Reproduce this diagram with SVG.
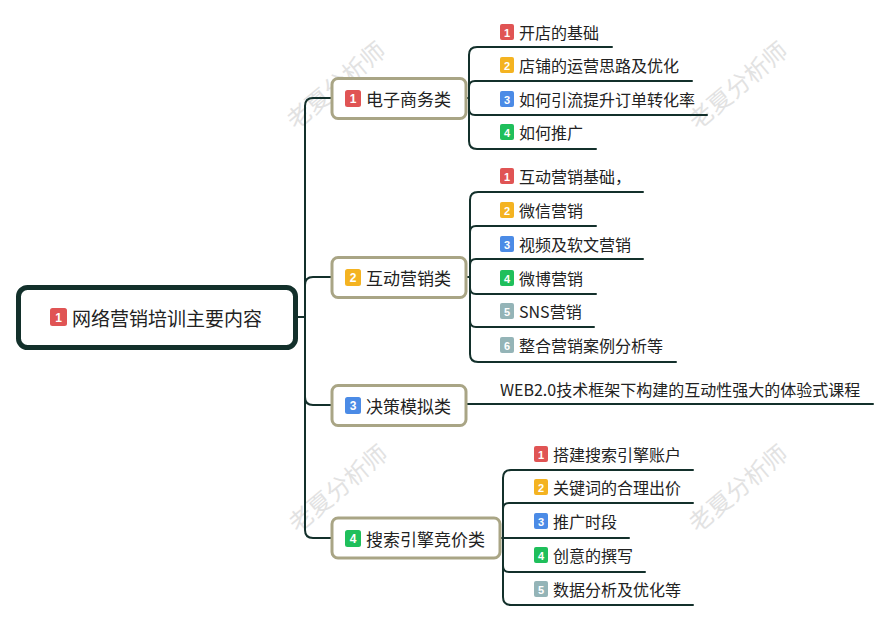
<svg xmlns="http://www.w3.org/2000/svg" width="891" height="622" viewBox="0 0 891 622">
<style>
text{font-family:"Microsoft YaHei","Noto Sans CJK SC","Noto Sans",sans-serif;fill:#222;dominant-baseline:central}
.wm{font-size:24px;fill:#e2e2e2}
.root{fill:#fff;stroke:#13302b;stroke-width:5}
.topic{fill:#fff;stroke:#a9a585;stroke-width:3}
.conn{fill:none;stroke:#13302b;stroke-width:2;stroke-linecap:round}
.t0{font-size:19px}
.t1{font-size:17px}
.t2{font-size:16px}
.n{font-size:11px;font-weight:bold;fill:#fff;text-anchor:middle;font-family:"Liberation Sans",Arial,sans-serif}
.nb{font-size:12px}
.r{fill:#e05454}.o{fill:#f4b321}.b{fill:#4b8be6}.g{fill:#1fbf5b}.s{fill:#94b4b7}
</style>
<rect width="891" height="622" fill="#fff"/>
<g id="watermarks">
<text class="wm" transform="translate(335 84) rotate(-40)" text-anchor="middle">老夏分析师</text>
<text class="wm" transform="translate(737 84) rotate(-40)" text-anchor="middle">老夏分析师</text>
<text class="wm" transform="translate(337 487) rotate(-40)" text-anchor="middle">老夏分析师</text>
<text class="wm" transform="translate(737 487) rotate(-40)" text-anchor="middle">老夏分析师</text>
</g>
<g id="connectors">
<path class="conn" d="M296 317H305"/>
<path class="conn" d="M331 98H313Q305 98 305 106V530Q305 538 313 538H331"/>
<path class="conn" d="M331 277H313Q305 277 305 285"/>
<path class="conn" d="M305 397Q305 405 313 405H331"/>
<path class="conn" d="M466 98H469"/>
<path class="conn" d="M612 47H477Q469 47 469 55V141Q469 149 477 149H596"/>
<path class="conn" d="M469 87Q469 81 475 81H692"/>
<path class="conn" d="M469 109Q469 115 475 115H707"/>
<path class="conn" d="M466 277H470"/>
<path class="conn" d="M643 192H478Q470 192 470 200V354Q470 362 478 362H676"/>
<path class="conn" d="M470 232Q470 226 476 226H596"/>
<path class="conn" d="M470 265Q470 259 476 259H643"/>
<path class="conn" d="M470 288Q470 294 476 294H596"/>
<path class="conn" d="M470 321Q470 327 476 327H594"/>
<path class="conn" d="M466 404H873"/>
<path class="conn" d="M693 470H511Q503 470 503 478V597Q503 605 511 605H693"/>
<path class="conn" d="M503 509Q503 503 509 503H693"/>
<path class="conn" d="M500 538H629"/>
<path class="conn" d="M503 566Q503 572 509 572H645"/>
</g>
<g id="root">
<rect class="root" x="18.5" y="287.5" width="277" height="60" rx="9"/>
<rect class="r" x="50" y="308" width="17" height="18" rx="2.5"/>
<text class="n nb" x="58.5" y="317.5">1</text>
<text class="t0" x="72" y="317">网络营销培训主要内容</text>
</g>
<g id="topic1">
<rect class="topic" x="332" y="78.5" width="134" height="40" rx="6"/>
<rect class="r" x="345" y="90" width="16" height="17" rx="2.5"/>
<text class="n nb" x="353" y="99">1</text>
<text class="t1" x="366" y="98">电子商务类</text>
</g>
<g id="topic1-1"><rect class="r" x="500" y="24" width="14" height="16" rx="2"/><text class="n" x="507" y="32.5">1</text><text class="t2" x="519" y="32">开店的基础</text></g>
<g id="topic1-2"><rect class="o" x="500" y="57" width="14" height="16" rx="2"/><text class="n" x="507" y="65.5">2</text><text class="t2" x="519" y="65">店铺的运营思路及优化</text></g>
<g id="topic1-3"><rect class="b" x="500" y="91" width="14" height="16" rx="2"/><text class="n" x="507" y="99.5">3</text><text class="t2" x="519" y="99">如何引流提升订单转化率</text></g>
<g id="topic1-4"><rect class="g" x="500" y="124" width="14" height="16" rx="2"/><text class="n" x="507" y="132.5">4</text><text class="t2" x="519" y="132">如何推广</text></g>
<g id="topic2">
<rect class="topic" x="332" y="257.5" width="134" height="40" rx="6"/>
<rect class="o" x="345" y="269" width="16" height="17" rx="2.5"/>
<text class="n nb" x="353" y="278">2</text>
<text class="t1" x="366" y="277">互动营销类</text>
</g>
<g id="topic2-1"><rect class="r" x="500" y="168" width="14" height="16" rx="2"/><text class="n" x="507" y="176.5">1</text><text class="t2" x="519" y="176">互动营销基础，</text></g>
<g id="topic2-2"><rect class="o" x="500" y="202" width="14" height="16" rx="2"/><text class="n" x="507" y="210.5">2</text><text class="t2" x="519" y="210">微信营销</text></g>
<g id="topic2-3"><rect class="b" x="500" y="236" width="14" height="16" rx="2"/><text class="n" x="507" y="244.5">3</text><text class="t2" x="519" y="244">视频及软文营销</text></g>
<g id="topic2-4"><rect class="g" x="500" y="270" width="14" height="16" rx="2"/><text class="n" x="507" y="278.5">4</text><text class="t2" x="519" y="278">微博营销</text></g>
<g id="topic2-5"><rect class="s" x="500" y="303" width="14" height="16" rx="2"/><text class="n" x="507" y="311.5">5</text><text class="t2" x="519" y="311">SNS营销</text></g>
<g id="topic2-6"><rect class="s" x="500" y="337" width="14" height="16" rx="2"/><text class="n" x="507" y="345.5">6</text><text class="t2" x="519" y="345">整合营销案例分析等</text></g>
<g id="topic3">
<rect class="topic" x="332" y="385.5" width="134" height="40" rx="6"/>
<rect class="b" x="345" y="397" width="16" height="17" rx="2.5"/>
<text class="n nb" x="353" y="406">3</text>
<text class="t1" x="366" y="405">决策模拟类</text>
</g>
<g id="topic3-1"><text class="t2" x="500" y="389">WEB2.0技术框架下构建的互动性强大的体验式课程</text></g>
<g id="topic4">
<rect class="topic" x="332" y="518" width="168" height="40" rx="6"/>
<rect class="g" x="345" y="530" width="16" height="17" rx="2.5"/>
<text class="n nb" x="353" y="539">4</text>
<text class="t1" x="366" y="538">搜索引擎竞价类</text>
</g>
<g id="topic4-1"><rect class="r" x="534" y="446" width="14" height="16" rx="2"/><text class="n" x="541" y="454.5">1</text><text class="t2" x="553" y="454">搭建搜索引擎账户</text></g>
<g id="topic4-2"><rect class="o" x="534" y="479" width="14" height="16" rx="2"/><text class="n" x="541" y="487.5">2</text><text class="t2" x="553" y="487">关键词的合理出价</text></g>
<g id="topic4-3"><rect class="b" x="534" y="513" width="14" height="16" rx="2"/><text class="n" x="541" y="521.5">3</text><text class="t2" x="553" y="521">推广时段</text></g>
<g id="topic4-4"><rect class="g" x="534" y="547" width="14" height="16" rx="2"/><text class="n" x="541" y="555.5">4</text><text class="t2" x="553" y="555">创意的撰写</text></g>
<g id="topic4-5"><rect class="s" x="534" y="581" width="14" height="16" rx="2"/><text class="n" x="541" y="589.5">5</text><text class="t2" x="553" y="589">数据分析及优化等</text></g>
</svg>
